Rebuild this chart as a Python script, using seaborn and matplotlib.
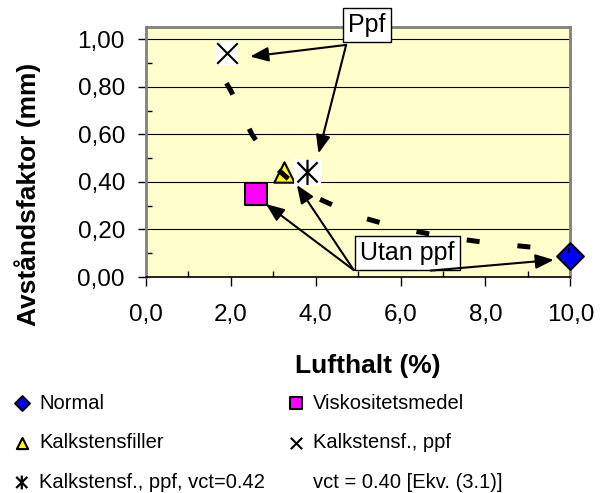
import seaborn as sns
import matplotlib.pyplot as plt
from matplotlib.path import Path
from matplotlib.lines import Line2D
from matplotlib.ticker import MultipleLocator, FuncFormatter

# values
normal_x = [10.0]
normal_y = [0.09]
visk_x = [2.60]
visk_y = [0.35]
kalk_x = [3.26]
kalk_y = [0.442]
ppf_x = [1.91]
ppf_y = [0.94]
ppf42_x = [3.81]
ppf42_y = [0.44]

# vct = 0.40 curve (Ekv. 3.1)
ekv_x = [1.9, 2.0, 2.5, 3.0, 3.5, 4.0, 5.0, 6.0, 7.0, 8.0, 9.0, 10.0]
ekv_y = [0.815, 0.785, 0.60, 0.47, 0.39, 0.335, 0.255, 0.205, 0.17, 0.145, 0.127, 0.111]

labels = ["Normal", "Viskositetsmedel", "Kalkstensfiller", "Kalkstensf., ppf",
          "Kalkstensf., ppf, vct=0.42", "vct = 0.40 [Ekv. (3.1)]"]

plt.rcParams['font.family'] = ['Liberation Sans', 'DejaVu Sans']

fig = plt.figure(figsize=(6.1, 4.93), dpi=100)
ax = fig.add_axes([0.2389, 0.4381, 0.6961, 0.5065])
ax.set_facecolor('#FFFFCC')

# asterisk marker: x plus vertical bar
asterisk = Path([(-1, -1), (1, 1), (-1, 1), (1, -1), (0, -1.25), (0, 1.25)],
                [Path.MOVETO, Path.LINETO, Path.MOVETO, Path.LINETO, Path.MOVETO, Path.LINETO])

sns.scatterplot(x=normal_x, y=normal_y, marker='D', s=185, color='#0000FF',
                edgecolor='black', linewidth=1.5, label=labels[0], clip_on=False, zorder=3, ax=ax)
sns.scatterplot(x=visk_x, y=visk_y, marker='s', s=265, color='#FF00FF',
                edgecolor='black', linewidth=1.5, label=labels[1], clip_on=False, zorder=3, ax=ax)
sns.scatterplot(x=kalk_x, y=kalk_y, marker='^', s=215, color='#FFFF00',
                edgecolor='black', linewidth=1.5, label=labels[2], clip_on=False, zorder=3, ax=ax)
# white box behind line markers
sns.scatterplot(x=ppf_x, y=ppf_y, marker='s', s=275, color='white', edgecolor='none',
                clip_on=False, zorder=3, ax=ax)
sns.scatterplot(x=ppf42_x, y=ppf42_y, marker='s', s=370, color='white', edgecolor='none',
                clip_on=False, zorder=3, ax=ax)
sns.scatterplot(x=ppf_x, y=ppf_y, marker='x', s=220, color='black', linewidth=1.5,
                label=labels[3], clip_on=False, zorder=4, ax=ax)
sns.scatterplot(x=ppf42_x, y=ppf42_y, marker=asterisk, s=330, facecolor='none',
                edgecolor='black', linewidth=1.6, label=labels[4], clip_on=False, zorder=4, ax=ax)

sns.lineplot(x=ekv_x, y=ekv_y, color='black', lw=3.6, linestyle=(0, (2.6, 7.6)),
             zorder=5, ax=ax)

if ax.get_legend() is not None:
    ax.get_legend().remove()

ax.set_xlim(0, 10)
ax.set_ylim(0, 1.05)
ax.xaxis.set_major_locator(MultipleLocator(2))
ax.xaxis.set_minor_locator(MultipleLocator(1))
ax.yaxis.set_major_locator(MultipleLocator(0.2))
ax.yaxis.set_minor_locator(MultipleLocator(0.1))
ax.xaxis.set_major_formatter(FuncFormatter(lambda v, p: f'{v:.1f}'.replace('.', ',')))
ax.yaxis.set_major_formatter(FuncFormatter(lambda v, p: f'{v:.2f}'.replace('.', ',')))

ax.tick_params(axis='x', which='major', direction='out', length=6.5, width=1, labelsize=17.5, pad=13)
ax.tick_params(axis='y', which='major', direction='out', length=6, width=1, labelsize=17.5, pad=9)
ax.tick_params(which='minor', direction='in', length=4, width=1)

ax.grid(axis='y', which='major', color='black', lw=0.8)
ax.set_axisbelow(True)
for side in ['top', 'right', 'left']:
    ax.spines[side].set_color('#808080')
    ax.spines[side].set_linewidth(2)
ax.spines['bottom'].set_color('black')
ax.spines['bottom'].set_linewidth(1.2)

ax.set_xlabel("Lufthalt (%)", fontsize=19, fontweight='bold')
ax.set_ylabel("Avståndsfaktor (mm)", fontsize=19, fontweight='bold')
ax.xaxis.set_label_coords(0.523, -0.31)
ax.yaxis.set_label_coords(-0.246, 0.332)

# annotations
box = dict(boxstyle='square,pad=0.2', fc='white', ec='black', lw=1)
arrow = dict(arrowstyle='-|>,head_length=0.55,head_width=0.22', color='black', lw=1.5,
             shrinkA=0, shrinkB=0, mutation_scale=20)
ax.text(5.21, 1.058, "Ppf", fontsize=18, ha='center', va='center', bbox=box, zorder=6, clip_on=False)
ax.text(6.16, 0.099, "Utan ppf", fontsize=18, ha='center', va='center', bbox=box, zorder=6, clip_on=False)
ax.annotate('', xy=(2.46, 0.927), xytext=(4.72, 0.976), arrowprops=arrow, zorder=7)
ax.annotate('', xy=(4.07, 0.52), xytext=(4.72, 0.976), arrowprops=arrow, zorder=7)
ax.annotate('', xy=(2.83, 0.307), xytext=(4.90, 0.029), arrowprops=arrow, zorder=7)
ax.annotate('', xy=(3.56, 0.387), xytext=(4.90, 0.029), arrowprops=arrow, zorder=7)
ax.annotate('', xy=(9.61, 0.072), xytext=(6.71, 0.027), arrowprops=arrow, zorder=7)

# legend below the chart, two columns
h, l = ax.get_legend_handles_labels()
hd = dict(zip(l, h))
ekv_handle = Line2D([], [], color='none')
order = [labels[0], labels[2], labels[4], labels[1], labels[3]]
handles = [hd[k] for k in order] + [ekv_handle]
names = order + [labels[5]]
fig.legend(handles, names, loc='upper left', bbox_to_anchor=(0.0225, 0.2015), ncol=2,
           frameon=False, fontsize=14.5, markerscale=0.55, scatterpoints=1,
           handlelength=0.8, handletextpad=0.45, columnspacing=1.15, labelspacing=1.02,
           borderpad=0, borderaxespad=0)

fig.savefig('out.png', dpi=100)
